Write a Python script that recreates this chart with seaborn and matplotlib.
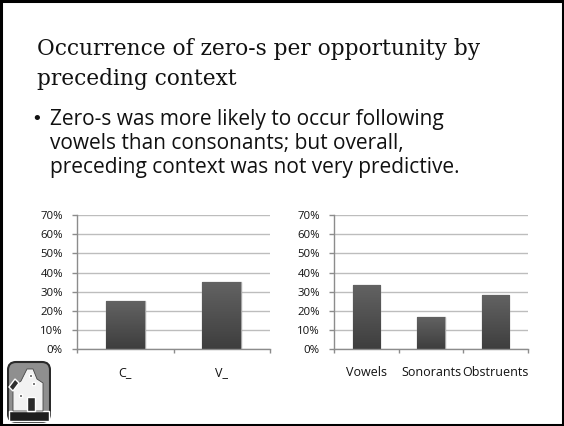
import matplotlib
matplotlib.use("Agg")
import matplotlib.pyplot as plt
import matplotlib.patches as mpatches
from matplotlib.colors import LinearSegmentedColormap
from matplotlib.ticker import PercentFormatter, FixedLocator
import numpy as np
import pandas as pd
import seaborn as sns

# ---- data ----
left_categories = ["C_", "V_"]
left_values = [0.254, 0.350]
right_categories = ["Vowels", "Sonorants", "Obstruents"]
right_values = [0.334, 0.170, 0.282]
y_ticks = [0.0, 0.1, 0.2, 0.3, 0.4, 0.5, 0.6, 0.7]

title_lines = ["Occurrence of zero-s per opportunity by", "preceding context"]
bullet_lines = ["Zero-s was more likely to occur following",
                "vowels than consonants; but overall,",
                "preceding context was not very predictive."]

sns.set_theme(style="white")
plt.rcParams['font.family'] = ['Open Sans', 'DejaVu Sans']

W, H = 564, 426
fig = plt.figure(figsize=(W / 100, H / 100), dpi=100)
fig.patch.set_facecolor("white")


def fx(x):
    return x / W


def fy(y):
    return 1 - y / H


# slide border
fig.add_artist(mpatches.Rectangle((fx(1), fy(425)), fx(562), 424 / H, transform=fig.transFigure,
                                  fill=False, edgecolor="black", linewidth=2.2))

# title
for i, line in enumerate(title_lines):
    fig.text(fx(37), fy(55 + 30 * i), line, family="DejaVu Serif", fontsize=15.6,
             color="#111111", va="baseline", ha="left")

# bullets
for i, line in enumerate(bullet_lines):
    if i == 0:
        fig.text(fx(36.5), fy(119), "•", family="DejaVu Sans", fontsize=13, color="#111111",
                 va="center", ha="center")
    fig.text(fx(50), fy(124.5 + 24.2 * i), line, fontsize=15.0, color="#111111",
             va="baseline", ha="left")

cmap = LinearSegmentedColormap.from_list("bar", ["#3e3e3e", "#636363"])


def draw_chart(rect, cats, vals, width):
    ax = fig.add_axes(rect)
    df = pd.DataFrame({"cat": cats, "val": vals})
    sns.barplot(data=df, x="cat", y="val", ax=ax, color="#4d4d4d", width=width,
                edgecolor="#a5a5a5", linewidth=1.0, zorder=3)
    grad = np.linspace(0, 1, 64).reshape(-1, 1)
    for p in list(ax.patches):
        x0, y0, w, h = p.get_x(), p.get_y(), p.get_width(), p.get_height()
        im = ax.imshow(grad, extent=[x0, x0 + w, y0, y0 + h], origin="lower", cmap=cmap,
                       aspect="auto", zorder=3.5)
        im.set_clip_path(p)
    n = len(cats)
    ax.set_xlim(-0.5, n - 0.5)
    ax.set_ylim(0, 0.7)
    ax.set_yticks(y_ticks)
    ax.yaxis.set_major_formatter(PercentFormatter(1.0, decimals=0))
    ax.grid(axis="y", color="#bdbdbd", linewidth=1.0, zorder=0)
    ax.set_axisbelow(True)
    for s in ["top", "right"]:
        ax.spines[s].set_visible(False)
    for s in ["left", "bottom"]:
        ax.spines[s].set_color("#8c8c8c")
        ax.spines[s].set_linewidth(1.0)
        ax.spines[s].set_zorder(5)
    ax.set_xlabel("")
    ax.set_ylabel("")
    ax.tick_params(axis="y", which="major", length=3.6, width=1.0, color="#8c8c8c",
                   pad=6.5, labelsize=8.2, labelcolor="#111111", left=True)
    ax.tick_params(axis="x", which="major", length=0, pad=12, labelsize=9.0,
                   labelcolor="#111111")
    ax.xaxis.set_minor_locator(FixedLocator([i - 0.5 for i in range(n + 1)]))
    ax.tick_params(axis="x", which="minor", length=3, width=1.0, color="#8c8c8c",
                   bottom=True)
    ax.set_facecolor("none")
    return ax


ax1 = draw_chart([fx(77), fy(349.4), (270 - 77) / W, (349.4 - 215) / H],
                 left_categories, left_values, 0.40)
ax2 = draw_chart([fx(334), fy(349.4), (528 - 334) / W, (349.4 - 215) / H],
                 right_categories, right_values, 0.42)

# logo (simple emblem approximation)
logo_ax = fig.add_axes([fx(7), fy(423), 44 / W, 66 / H])
logo_ax.set_xlim(0, 44)
logo_ax.set_ylim(0, 66)
logo_ax.axis("off")
logo_ax.add_patch(mpatches.FancyBboxPatch((1, 1), 42, 60, boxstyle="round,pad=0,rounding_size=8",
                                          facecolor="#8f8f8f", edgecolor="#2a2a2a", linewidth=1.5))
logo_ax.add_patch(mpatches.Rectangle((2, 2), 40, 10, facecolor="#1e1e1e"))
logo_ax.add_patch(mpatches.Polygon([[6, 12], [6, 36], [14, 42], [20, 54], [26, 54], [30, 44],
                                    [36, 40], [36, 12]], closed=True, facecolor="#f2f2f2",
                                   edgecolor="#444444", linewidth=0.6))
logo_ax.add_patch(mpatches.Rectangle((20, 12), 8, 14, facecolor="#2a2a2a"))
logo_ax.add_patch(mpatches.Rectangle((12, 26), 3, 3, facecolor="#3a3a3a"))
logo_ax.add_patch(mpatches.Rectangle((22, 46), 3, 3, facecolor="#3a3a3a"))
logo_ax.add_patch(mpatches.Rectangle((25, 38), 3, 3, facecolor="#3a3a3a"))
logo_ax.add_patch(mpatches.Polygon([[2, 36], [8, 44], [12, 40], [6, 32]], closed=True,
                                   facecolor="#2e2e2e"))

fig.savefig("out.png", dpi=100, facecolor="white")
